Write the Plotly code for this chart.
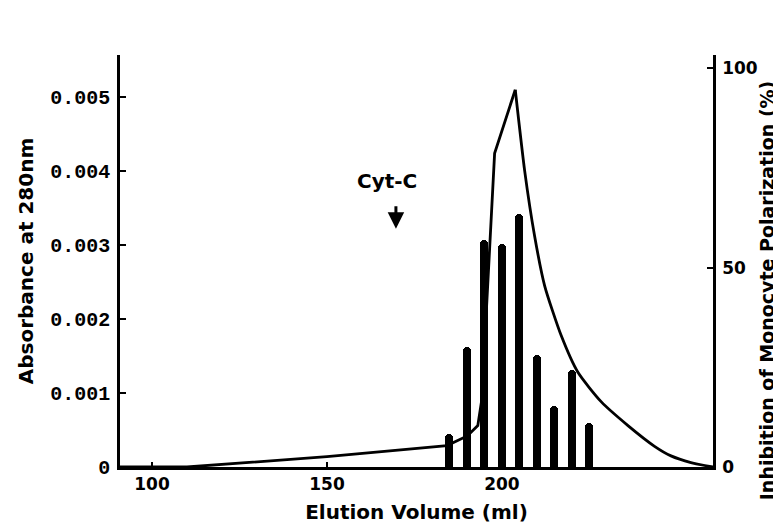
import plotly.graph_objects as go

# Absorbance at 280 nm (line, left axis)
rise_ml = [90.86, 110, 150, 184.3, 190.1, 193.1, 194.2, 196.5, 197.9, 203.8]
rise_abs = [0, 0, 0.00014, 0.00029, 0.00042, 0.00056, 0.0009, 0.00306, 0.00424, 0.0051]
decay_ml = [203.8, 206.5, 209.3, 212.2, 216.9, 221.7, 228.4, 236.0, 243.6, 248.3, 254.0, 260.3]
decay_abs = [0.0051, 0.0040, 0.00313, 0.00245, 0.00178, 0.00128, 0.00088, 0.00056, 0.00028,
             0.00015, 0.00006, 0]

# Inhibition of monocyte polarization (bars, right axis)
fraction_ml = [185, 190, 195, 200, 205, 210, 215, 220, 225]
inhibition_pct = [8.3, 30, 56.8, 55.8, 63.5, 28.2, 15.4, 24.4, 11.1]

left_ticks = [0, 0.001, 0.002, 0.003, 0.004, 0.005]
left_ticktext = ["0", "0.001", "0.002", "0.003", "0.004", "0.005"]
right_ticks = [0, 50, 100]
x_ticks = [100, 150, 200]

left_tick_font = dict(family="Liberation Mono", size=20, color="black", weight=700)
right_tick_font = dict(family="DejaVu Sans", size=17, color="black", weight=700)
x_tick_font = dict(family="DejaVu Sans", size=17, color="black", weight=700)
title_font = dict(family="DejaVu Sans", size=20, color="black", weight=700)
right_title_font = dict(family="DejaVu Sans", size=19, color="black", weight=700)

fig = go.Figure()
fig.add_trace(go.Bar(x=fraction_ml, y=inhibition_pct, yaxis="y2", width=2.3,
                     marker=dict(color="black", cornerradius=4, line=dict(width=0))))
fig.add_trace(go.Scatter(x=rise_ml, y=rise_abs, mode="lines", yaxis="y",
                         line=dict(color="black", width=2.8)))
fig.add_trace(go.Scatter(x=decay_ml, y=decay_abs, mode="lines", yaxis="y",
                         line=dict(color="black", width=2.8, shape="spline", smoothing=0.6)))

fig.add_annotation(x=167.1, y=0.00387, xref="x", yref="y", text="Cyt-C", showarrow=False,
                   font=dict(family="DejaVu Sans", size=20, color="black", weight=700))
fig.add_annotation(x=169.7, y=0.00322, xref="x", yref="y", text="", showarrow=True,
                   ax=0, ay=-24, arrowhead=2, arrowsize=1.1, arrowwidth=3, arrowcolor="black")
fig.add_annotation(x=1.09, y=0.43, xref="paper", yref="paper", xanchor="center", yanchor="middle",
                   text="Inhibition of Monocyte Polarization (%)", textangle=-90, showarrow=False,
                   font=right_title_font)

fig.update_layout(
    width=781, height=523,
    margin=dict(l=112, r=76, t=47, b=64),
    paper_bgcolor="white", plot_bgcolor="white",
    showlegend=False, bargap=0,
    xaxis=dict(range=[90.86, 260.3], tickvals=x_ticks, ticks="inside", ticklen=5, tickwidth=2,
               tickcolor="black", showline=True, linecolor="black", linewidth=2.5,
               showgrid=False, zeroline=False, tickfont=x_tick_font, ticklabelstandoff=0,
               title=dict(text="Elution Volume (ml)", font=title_font, standoff=12)),
    yaxis=dict(range=[0, 0.00557], tickvals=left_ticks, ticktext=left_ticktext, ticks="inside",
               ticklen=6, tickwidth=2, tickcolor="black", showline=True, linecolor="black",
               linewidth=2.5, showgrid=False, zeroline=False, tickfont=left_tick_font,
               ticklabelstandoff=3,
               title=dict(text="Absorbance at 280nm", font=title_font, standoff=12)),
    yaxis2=dict(range=[0, 103.3], overlaying="y", side="right", tickvals=right_ticks,
                ticks="inside", ticklen=6, tickwidth=2, tickcolor="black", showline=True,
                linecolor="black", linewidth=2.5, showgrid=False, zeroline=False,
                tickfont=right_tick_font, ticklabelstandoff=3),
)

fig.write_html("out.html")
